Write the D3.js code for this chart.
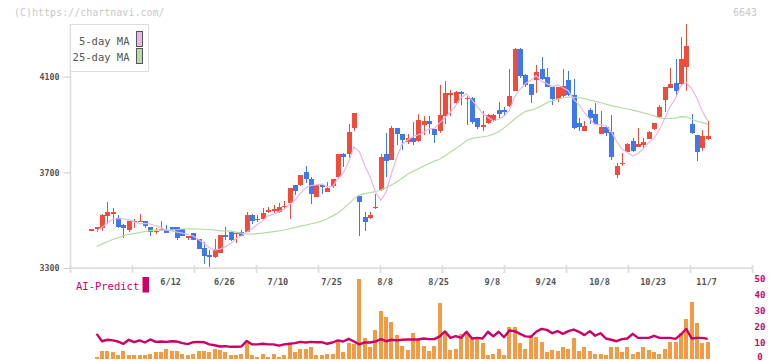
<!DOCTYPE html>
<html><head><meta charset="utf-8">
<script src="https://cdn.jsdelivr.net/npm/d3@7"></script>
<style>body{margin:0;background:#fff}svg{display:block}text{font-family:"DejaVu Sans Mono","Liberation Mono",monospace}</style>
</head><body><svg id="c" width="772" height="361"></svg>
<script>
const dates = ["5/22","5/23","5/26","5/27","5/28","5/29","5/30","6/2","6/3","6/4","6/5","6/6","6/9","6/10","6/11","6/12","6/13","6/16","6/17","6/18","6/19","6/20","6/23","6/24","6/25","6/26","6/27","6/30","7/1","7/2","7/3","7/4","7/7","7/8","7/9","7/10","7/11","7/14","7/15","7/16","7/17","7/18","7/22","7/23","7/24","7/25","7/28","7/29","7/30","7/31","8/1","8/4","8/5","8/6","8/7","8/8","8/12","8/13","8/14","8/15","8/18","8/19","8/20","8/21","8/22","8/25","8/26","8/27","8/28","8/29","9/1","9/2","9/3","9/4","9/5","9/8","9/9","9/10","9/11","9/12","9/16","9/17","9/18","9/19","9/22","9/24","9/25","9/26","9/29","9/30","10/1","10/2","10/3","10/6","10/7","10/8","10/9","10/10","10/14","10/15","10/16","10/17","10/20","10/21","10/22","10/23","10/24","10/27","10/28","10/29","10/30","10/31","11/4","11/5","11/6","11/7"];
const open = [3462,3468,3469,3519,3531,3508,3480,3460,3495,3495,3497,3471,3454,3457,3457,3471,3471,3463,3431,3446,3421,3385,3356,3347,3364,3438,3451,3446,3451,3451,3522,3504,3506,3538,3543,3534,3557,3573,3646,3647,3701,3672,3598,3647,3619,3643,3682,3777,3777,3887,3601,3513,3509,3553,3626,3777,3752,3885,3860,3826,3844,3831,3898,3915,3881,3873,3937,4028,3990,4037,4011,4012,3926,3894,3905,3916,3961,3960,3977,4041,4216,4107,4069,4086,4132,4099,4057,4007,4019,4086,4023,3906,3874,3961,3944,3862,3890,3869,3690,3737,3786,3831,3807,3815,3841,3881,3931,4004,4053,4073,4069,4140,3902,3856,3802,3839];
const high = [3464,3471,3524,3577,3552,3522,3482,3498,3504,3526,3498,3472,3466,3497,3480,3472,3473,3465,3434,3447,3423,3410,3375,3421,3440,3473,3453,3449,3459,3534,3524,3522,3551,3554,3563,3570,3580,3635,3648,3691,3726,3682,3649,3648,3660,3673,3778,3779,3902,3950,3603,3535,3535,3609,3777,3866,3894,3887,3862,3860,3909,3944,3936,3936,3883,4065,4082,4044,4041,4039,4020,4014,3928,3956,3944,3942,3995,3974,4132,4218,4218,4111,4071,4149,4182,4136,4059,4059,4132,4124,4090,3927,3915,3969,3990,3956,3892,3940,3739,3781,3821,3844,3885,3844,3871,3908,3981,4059,4136,4174,4266,4320,3944,3858,3877,3915];
const low = [3460,3452,3456,3483,3485,3468,3427,3452,3469,3491,3469,3435,3443,3455,3446,3455,3418,3433,3418,3416,3378,3317,3306,3340,3362,3417,3415,3406,3432,3449,3484,3494,3501,3528,3528,3528,3545,3506,3605,3645,3654,3568,3596,3609,3617,3636,3671,3724,3761,3874,3435,3456,3507,3548,3624,3682,3750,3814,3793,3818,3814,3829,3856,3859,3824,3863,3901,3937,3986,3982,3898,3903,3880,3873,3903,3909,3926,3935,3975,4040,4096,4055,3991,4033,4088,4056,3982,3993,4017,4021,3882,3874,3872,3902,3901,3860,3853,3752,3678,3728,3784,3787,3805,3800,3839,3879,3929,3954,4051,4016,4065,4040,3862,3748,3789,3835];
const close = [3463,3470,3522,3533,3534,3471,3468,3497,3498,3497,3477,3452,3456,3464,3448,3457,3427,3435,3433,3418,3381,3351,3347,3379,3438,3431,3417,3448,3434,3522,3498,3507,3528,3541,3546,3554,3560,3633,3623,3689,3671,3609,3647,3637,3634,3672,3777,3765,3869,3948,3577,3494,3523,3557,3763,3749,3885,3860,3835,3844,3828,3919,3915,3903,3856,3940,4032,4031,4035,4027,4013,3909,3891,3896,3940,3940,3945,3956,4019,4216,4103,4065,4022,4119,4090,4058,4007,4055,4061,4023,3884,3888,3892,3927,3903,3890,3866,3765,3726,3740,3819,3789,3819,3827,3869,3906,3973,4057,4069,4040,4174,4228,3864,3785,3852,3852];
const ma5 = [null,3456,3470,3488,3504,3506,3506,3501,3494,3486,3487,3484,3476,3469,3459,3455,3450,3446,3440,3434,3419,3404,3386,3375,3379,3389,3402,3423,3434,3450,3464,3482,3498,3519,3524,3535,3546,3567,3583,3612,3635,3645,3648,3651,3640,3640,3673,3697,3743,3806,3787,3731,3682,3620,3583,3617,3695,3763,3818,3835,3850,3857,3868,3882,3884,3907,3929,3952,3979,4013,4028,4003,3975,3947,3930,3915,3922,3935,3960,4015,4048,4072,4085,4105,4080,4071,4059,4066,4054,4041,4006,3982,3950,3923,3899,3900,3896,3870,3830,3797,3783,3768,3779,3799,3825,3842,3879,3926,3975,4009,4063,4075,4050,4010,3955,3916];
const ma25 = [null,3390,3400,3410,3419,3427,3435,3441,3444,3448,3453,3456,3458,3458,3459,3460,3461,3463,3464,3464,3463,3462,3461,3458,3455,3455,3454,3450,3446,3443,3442,3444,3446,3449,3452,3455,3459,3464,3469,3475,3479,3485,3490,3496,3506,3517,3530,3548,3568,3589,3606,3611,3615,3620,3626,3636,3647,3661,3675,3692,3704,3715,3726,3737,3747,3755,3769,3785,3800,3815,3833,3842,3845,3849,3852,3860,3870,3886,3904,3924,3940,3955,3960,3967,3978,3991,4000,4006,4011,4015,4014,4012,4008,4002,3997,3992,3985,3979,3974,3969,3965,3960,3955,3949,3943,3936,3928,3926,3926,3927,3933,3932,3922,3914,3908,3902];
const volume = [null,1.2,5,4.4,3.8,2.5,4.4,2.5,2.5,2.5,1.9,3.1,3.8,3.8,5.8,5,5,3.1,2.5,3.1,4.4,4.4,3.8,5.8,5.2,3.8,1.9,2.5,3.1,9.8,1.9,1.2,3.1,1.2,3.1,1.2,2.5,9,3.8,5.8,5.8,6.9,2.5,2.5,3.1,3.1,11,3.8,9.4,9,50,13,6.9,17.7,29.4,26.2,23.1,14.4,8.1,5.6,16.2,12.5,8.1,4.4,8.1,34.4,17.5,5.6,6.2,15.6,16.2,11.9,11.9,10,2.5,3.1,6.2,2.5,20,19.4,9.4,6.2,15,13.7,10.6,3.8,5.6,5,7.5,6.2,13,4.4,6.9,4.4,3.1,3.1,1.9,6.9,6.9,3.8,6.9,3.1,3.8,7.5,5.6,3.8,3.1,6.2,10.6,10.6,16.2,24.4,35.6,21.9,9.4,10.6];
const aiPredict = [null,15.4,10.8,11.7,11.3,10.6,9.2,11.7,10.2,11.3,10,11.9,10.4,10.6,10.4,10.8,10.6,9.6,9,10.2,10.4,10.2,8.8,8.3,7.5,7.7,7.3,7.3,7.5,11,8.8,8.8,9.2,8.8,8.8,8,8.8,9.2,9.6,10.4,10,10.4,10.2,10.2,9.2,10,11.3,10.6,12.3,10.6,8.8,10,10,10.6,12.1,10.8,11.7,11.3,11.7,11.9,11.9,11.9,12.5,12.1,12.1,13.8,16.9,12.9,14,12.9,16.7,12.5,12.9,12.5,16.7,13.8,16.7,13.3,17.5,17.1,15.4,13.8,13.5,16.7,18.5,17.9,15.8,17.1,15.4,17.1,18.1,16.7,14.6,17.1,14.2,15.8,12.5,11.7,10.8,12.1,12.5,15.4,12.9,12.9,12.9,14.2,12.9,12.9,12.9,12.3,15,18.5,12.5,12.9,12.9,12.3];
const dateLabels = ["6/12","6/26","7/10","7/25","8/8","8/25","9/8","9/24","10/8","10/23","11/7"];
const priceTicks = [3300,3700,4100];
const volTicks = [0,10,20,30,40,50];

const RED = "#f04c3c", BLUE = "#3f78ea", PINK = "#e9b6ec", GREEN = "#b6dba6", ORANGE = "#f39a45", CRIMSON = "#cc0066";
const svg = d3.select("#c");
const x = d3.scalePoint().domain(dates).range([91.3, 707.7]);
const y = d3.scaleLinear().domain([3300, 4100]).range([268, 76.7]);
const yv = d3.scaleLinear().domain([0, 50]).range([358.5, 278.5]);
const candles = dates.map((d, i) => ({d, o: open[i], h: high[i], l: low[i], c: close[i], m5: ma5[i], m25: ma25[i], v: volume[i], ai: aiPredict[i]}));

// watermark and code
svg.append("text").attr("x", 14).attr("y", 16).attr("font-size", 10).attr("fill", "#c8c8c8").text("(C)https://chartnavi.com/");
svg.append("text").attr("x", 757).attr("y", 16).attr("text-anchor", "end").attr("font-size", 10).attr("fill", "#c8c8c8").text("6643");

// axes frame
svg.append("line").attr("x1", 70.5).attr("x2", 70.5).attr("y1", 24).attr("y2", 268).attr("stroke", "#dddddd").attr("stroke-width", 1.5);
svg.append("line").attr("x1", 70).attr("x2", 753).attr("y1", 268.2).attr("y2", 268.2).attr("stroke", "#dddddd").attr("stroke-width", 1.8);
const tickX = d3.scaleLinear().domain([0, 11]).range([70.5, 752.5]);
svg.append("g").selectAll("line").data(d3.range(12)).join("line")
  .attr("x1", d => tickX(d)).attr("x2", d => tickX(d)).attr("y1", 265).attr("y2", 273)
  .attr("stroke", "#dddddd").attr("stroke-width", 1.8);

const yAxis = d3.axisLeft(y).tickValues(priceTicks).tickSize(7).tickPadding(4).tickFormat(d3.format("d"));
const ga = svg.append("g").attr("transform", "translate(70.5,0)").call(yAxis);
ga.select(".domain").remove();
ga.selectAll(".tick line").attr("stroke", "#cccccc");
ga.selectAll(".tick text").attr("font-family", "DejaVu Sans Mono, monospace").attr("font-size", 8.3).attr("font-weight", "bold").attr("fill", "#555");

// date labels
svg.append("g").selectAll("text").data(dateLabels).join("text")
  .attr("x", d => x(d) - 1).attr("y", 285).attr("text-anchor", "middle")
  .attr("font-size", 8.6).attr("fill", "#555").attr("font-weight", "bold").text(d => d);

// volume bars
svg.append("g").attr("shape-rendering", "crispEdges").selectAll("rect").data(candles.filter(c => c.v != null)).join("rect")
  .attr("x", c => x(c.d) - 2).attr("width", 4).attr("y", c => yv(c.v)).attr("height", c => yv(0) - yv(c.v)).attr("fill", ORANGE);

// AI predict line
svg.append("path").datum(candles).attr("fill", "none").attr("stroke", CRIMSON).attr("stroke-width", 2.4).attr("stroke-linejoin", "round")
  .attr("d", d3.line().defined(c => c.ai != null).x(c => x(c.d)).y(c => yv(c.ai)));

// volume axis labels
svg.append("g").selectAll("text").data(volTicks).join("text")
  .attr("x", 760).attr("y", v => Math.min(yv(v) + 3, 359.5)).attr("text-anchor", "middle").attr("font-size", 9).attr("font-weight", "bold")
  .attr("fill", CRIMSON).text(v => v);

// AI-Predict legend
svg.append("text").attr("x", 76).attr("y", 290).attr("font-size", 10.5).attr("fill", CRIMSON).text("AI-Predict");
svg.append("rect").attr("x", 142.5).attr("y", 277).attr("width", 6.5).attr("height", 15.5).attr("fill", CRIMSON);

// candles
const gc = svg.append("g").attr("shape-rendering", "crispEdges");
gc.selectAll("line").data(candles).join("line")
  .attr("x1", c => Math.round(x(c.d)) + 0.5).attr("x2", c => Math.round(x(c.d)) + 0.5)
  .attr("y1", c => y(c.h)).attr("y2", c => y(c.l))
  .attr("stroke", c => c.c >= c.o ? RED : BLUE).attr("stroke-width", 1);
gc.selectAll("rect").data(candles).join("rect")
  .attr("x", c => Math.round(x(c.d)) - 2).attr("width", 5)
  .attr("y", c => y(Math.max(c.o, c.c)))
  .attr("height", c => Math.max(1.5, Math.abs(y(c.o) - y(c.c))))
  .attr("fill", c => c.c >= c.o ? RED : BLUE);

// moving averages
svg.append("path").datum(candles).attr("fill", "none").attr("stroke", GREEN).attr("stroke-width", 1.2)
  .attr("d", d3.line().defined(c => c.m25 != null).x(c => x(c.d)).y(c => y(c.m25)));
svg.append("path").datum(candles).attr("fill", "none").attr("stroke", PINK).attr("stroke-width", 1.2)
  .attr("d", d3.line().defined(c => c.m5 != null).x(c => x(c.d)).y(c => y(c.m5)));

// MA legend
const lg = svg.append("g");
lg.append("rect").attr("x", 70.5).attr("y", 24.5).attr("width", 78).attr("height", 47).attr("fill", "#fff").attr("stroke", "#dddddd");
lg.append("text").attr("x", 129.5).attr("y", 44.5).attr("text-anchor", "end").attr("font-size", 10.5).attr("fill", "#555").text("5-day MA");
lg.append("text").attr("x", 129.5).attr("y", 60.5).attr("text-anchor", "end").attr("font-size", 10.5).attr("fill", "#555").text("25-day MA");
lg.append("rect").attr("x", 136.5).attr("y", 31.5).attr("width", 6).attr("height", 15).attr("fill", PINK).attr("stroke", "#555");
lg.append("rect").attr("x", 136.5).attr("y", 48.5).attr("width", 6).attr("height", 15).attr("fill", GREEN).attr("stroke", "#555");
</script></body></html>
